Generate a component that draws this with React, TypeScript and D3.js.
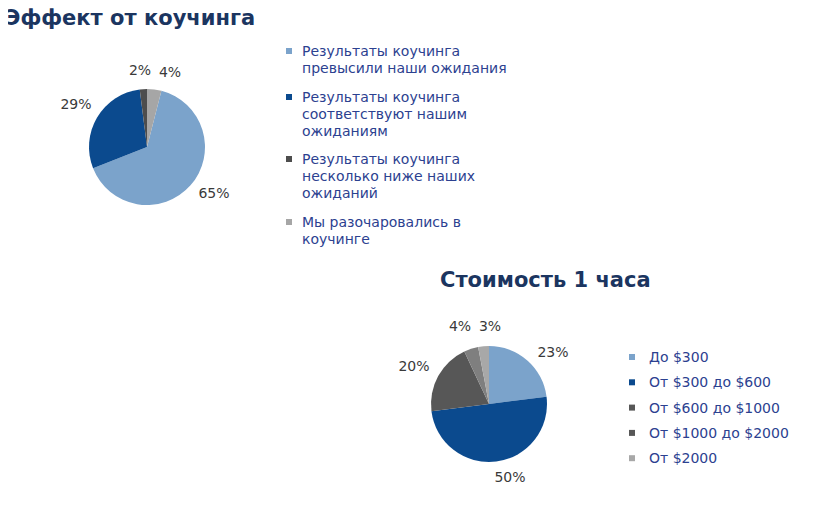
import React, { useEffect, useRef } from 'react';
import * as d3 from 'd3';

// Chart 1: "Эффект от коучинга"
const effectLabels = [
  ['Результаты коучинга', 'превысили наши ожидания'],
  ['Результаты коучинга', 'соответствуют нашим', 'ожиданиям'],
  ['Результаты коучинга', 'несколько ниже наших', 'ожиданий'],
  ['Мы разочаровались в', 'коучинге'],
];
const effectValues = [65, 29, 2, 4];
const effectColors = ['#7ba3cb', '#0b4a8e', '#4d4d4d', '#a6a6a6'];

// Chart 2: "Стоимость 1 часа"
const costLabels = ['До $300', 'От $300 до $600', 'От $600 до $1000', 'От $1000 до $2000', 'От $2000'];
const costValues = [23, 50, 20, 4, 3];
const costColors = ['#7ba3cb', '#0b4a8e', '#575757', '#7f7f7f', '#a8a8a8'];
const costLegendColors = ['#7ba3cb', '#0b4a8e', '#575757', '#575757', '#a8a8a8'];

const FONT = 'Verdana, "DejaVu Sans", sans-serif';
const TITLE_COLOR = '#1b3560';
const LEGEND_COLOR = '#2c4190';
const LABEL_COLOR = '#3a3a3a';

const App: React.FC = () => {
  const svgRef = useRef<SVGSVGElement>(null);

  useEffect(() => {
    if (!svgRef.current) return;
    const svg = d3.select(svgRef.current);
    svg.selectAll('*').remove();
    svg.append('rect').attr('width', 819).attr('height', 532).attr('fill', '#fff');

    const drawPie = (
      cx: number, cy: number, r: number,
      values: number[], colors: string[], start: number,
      labelPos: [number, number][]
    ) => {
      const pie = d3.pie<number>().sort(null).value(d => d)
        .startAngle(start).endAngle(start + Math.PI * 2);
      const arc = d3.arc<d3.PieArcDatum<number>>().innerRadius(0).outerRadius(r);
      const g = svg.append('g').attr('transform', `translate(${cx},${cy})`);
      const arcs = pie(values);
      g.selectAll('path').data(arcs).enter().append('path')
        .attr('d', arc)
        .attr('fill', (_, i) => colors[i]);
      g.selectAll('text').data(arcs).enter().append('text')
        .attr('x', (_, i) => labelPos[i][0])
        .attr('y', (_, i) => labelPos[i][1])
        .attr('text-anchor', 'middle')
        .attr('dy', '0.35em')
        .attr('font-family', FONT)
        .attr('font-size', 14)
        .attr('fill', LABEL_COLOR)
        .text(d => `${d.data}%`);
    };

    // Titles
    svg.append('text').attr('x', 5).attr('y', 25)
      .attr('font-family', FONT).attr('font-size', 21).attr('font-weight', 'bold')
      .attr('fill', TITLE_COLOR).text('Эффект от коучинга');
    svg.append('text').attr('x', 440).attr('y', 287)
      .attr('font-family', FONT).attr('font-size', 21).attr('font-weight', 'bold')
      .attr('fill', TITLE_COLOR).text('Стоимость 1 часа');

    // Pie 1 (label offsets relative to centre)
    drawPie(147, 147, 58, effectValues, effectColors, 0.04 * Math.PI * 2,
      [[67, 46], [-71, -43], [-7, -77], [23, -75]]);

    // Pie 2
    drawPie(489, 404, 58, costValues, costColors, 0,
      [[64, -52], [21, 73], [-75, -38], [-29, -78], [1, -78]]);

    // Legend 1
    const lineH = 17;
    const starts = [51, 97, 159, 222];
    effectLabels.forEach((lines, i) => {
      svg.append('rect').attr('x', 286).attr('y', starts[i] - 3).attr('width', 6).attr('height', 6)
        .attr('fill', effectColors[i]);
      const t = svg.append('text').attr('font-family', FONT).attr('font-size', 14)
        .attr('fill', LEGEND_COLOR);
      lines.forEach((ln, j) => {
        t.append('tspan').attr('x', 302).attr('y', starts[i] + j * lineH).attr('dy', '0.35em').text(ln);
      });
    });

    // Legend 2
    costLabels.forEach((lb, i) => {
      const y = 357 + i * 25.3;
      svg.append('rect').attr('x', 629).attr('y', y - 3).attr('width', 6).attr('height', 6)
        .attr('fill', costLegendColors[i]);
      svg.append('text').attr('x', 649).attr('y', y).attr('dy', '0.35em')
        .attr('font-family', FONT).attr('font-size', 14).attr('fill', LEGEND_COLOR).text(lb);
    });
  }, []);

  return <svg ref={svgRef} width={819} height={532} style={{ display: 'block', margin: -8 }} />;
};

export default App;
